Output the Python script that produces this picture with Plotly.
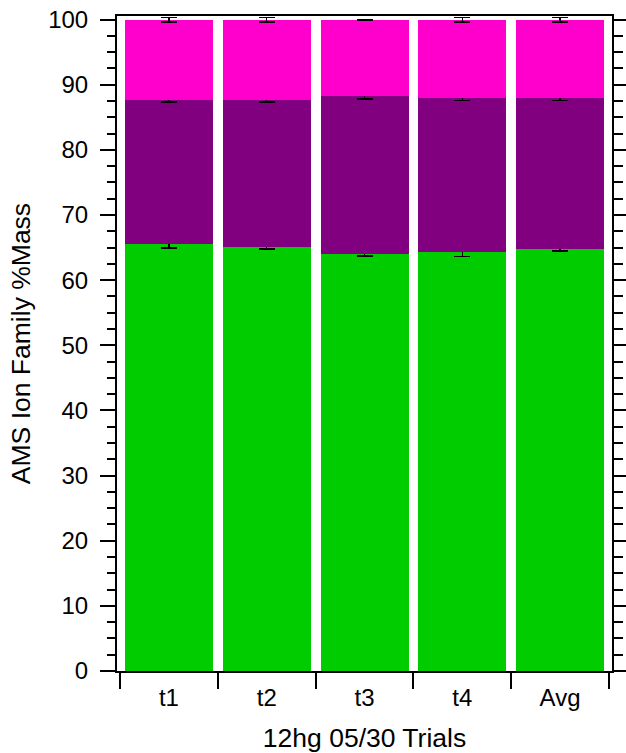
import plotly.graph_objects as go

categories = ["t1", "t2", "t3", "t4", "Avg"]
green_vals = [65.5, 65.1, 64.0, 64.25, 64.8]
purple_vals = [22.2, 22.6, 24.2, 23.65, 23.1]
magenta_vals = [12.3, 12.3, 11.8, 12.1, 12.1]
green_err = [0.6, 0.35, 0.33, 0.6, 0.33]
purple_err = [0.35, 0.35, 0.4, 0.35, 0.35]
magenta_err = [0.35, 0.35, 0.05, 0.35, 0.35]

major_ticks = list(range(0, 101, 10))
mid_ticks = list(range(5, 100, 10))

series = [
    ("green", green_vals, green_err, "#00CC00"),
    ("purple", purple_vals, purple_err, "#800080"),
    ("magenta", magenta_vals, magenta_err, "#FF00CC"),
]

FONT = "Liberation Sans, Arial, sans-serif"
fig = go.Figure()
for name, vals, err, col in series:
    fig.add_trace(go.Bar(
        x=categories, y=vals, name=name,
        marker=dict(color=col, line=dict(width=0)),
        error_y=dict(type="data", array=err, visible=True,
                     color="#000000", thickness=1.5, width=8),
    ))

yr = [0, 100.55]
fig.update_layout(
    barmode="stack",
    bargap=0.1,
    width=626, height=753,
    margin=dict(l=117, r=14, t=16, b=82, autoexpand=False),
    paper_bgcolor="white", plot_bgcolor="white",
    showlegend=False,
    font=dict(family=FONT, color="#000000", size=24),
    xaxis=dict(
        type="category",
        range=[-0.531, 4.531],
        tickson="boundaries",
        ticks="outside", ticklen=16, tickwidth=1.5, tickcolor="#000",
        showline=True, linecolor="#000", linewidth=2, mirror=True,
        showgrid=False, zeroline=False, automargin=False,
        tickfont=dict(size=24), ticklabeloverflow="allow",
        ticklabelstandoff=4,
        title=dict(text="12hg 05/30 Trials", font=dict(size=26.5), standoff=21),
    ),
    yaxis=dict(
        range=yr,
        tickvals=major_ticks,
        ticks="outside", ticklen=15, tickwidth=1.5, tickcolor="#000",
        minor=dict(dtick=2.5, tick0=0, ticks="outside", ticklen=8.5,
                   tickwidth=1.5, tickcolor="#000", showgrid=False),
        showline=True, linecolor="#000", linewidth=2, mirror="ticks",
        showgrid=False, zeroline=False, automargin=False,
        tickfont=dict(size=24), ticklabeloverflow="allow",
        ticklabelstandoff=7,
        title=dict(text="AMS Ion Family %Mass", font=dict(size=26.5), standoff=10),
    ),
    yaxis2=dict(
        range=yr, overlaying="y", anchor="x", side="left",
        tickvals=mid_ticks, showticklabels=False,
        ticks="outside", ticklen=11, tickwidth=1.5, tickcolor="#000",
        showline=False, mirror="ticks", showgrid=False, zeroline=False,
        automargin=False,
    ),
)

# remove the browser's default 8px body margin so the figure sits at the page origin
fig.write_html("out.html", config={"displayModeBar": False},
               post_script="document.body.style.margin='0';")
